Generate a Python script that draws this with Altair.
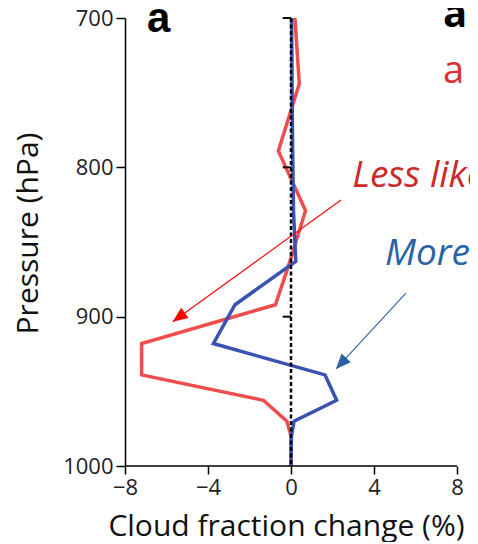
import altair as alt
import pandas as pd

# ---- data ----
pressure = [700, 744, 789, 829, 863, 892, 918, 939, 956, 970, 980, 1000]
red_change = [0.19, 0.40, -0.61, 0.70, -0.05, -0.75, -7.20, -7.20, -1.33, -0.20, 0.0, 0.0]
blue_change = [0.03, 0.05, 0.08, 0.12, 0.23, -2.70, -3.74, 1.64, 2.20, 0.15, 0.02, 0.0]

x_ticks = [-8, -4, 0, 4, 8]
y_ticks = [700, 800, 900, 1000]
zero_marks = [700, 800, 900]

# annotations (data coordinates)
ann_text = ["a", "ar", "a", "Less like", "More"]
ann_x = [-6.94, 7.33, 7.33, 2.95, 4.53]
ann_p = [709.2, 706.0, 743.5, 813.2, 865.4]

arrow_x0 = [2.41, 5.54]
arrow_p0 = [821.9, 884.2]
arrow_x1 = [-5.70, 2.17]
arrow_p1 = [903.4, 935.0]
arrow_angle = [234, 222.6]

XDOM = [-8, 8.627]
YDOM = [700, 1000]
FONT = "Open Sans"
RED_LINE = "#EF4D4D"
BLUE_LINE = "#3A53B3"

x_axis = alt.Axis(values=x_ticks, domain=False, grid=False, tickSize=8, tickWidth=1.5, tickColor="black",
                  labelFont=FONT, labelFontSize=22, labelColor="#222", labelPadding=3,
                  labelFlush=False, labelOverlap=False,
                  title="Cloud fraction change (%)", titleFont=FONT, titleFontSize=30, titleFontWeight="normal",
                  titleColor="#111", titleX=161, titleY=69, titleBaseline="alphabetic", titleAlign="center")
y_axis = alt.Axis(values=y_ticks, format="d", grid=False, domainColor="black", domainWidth=1.5, tickSize=9,
                  tickWidth=1.5, tickColor="black", labelFont=FONT, labelFontSize=22, labelColor="#222",
                  labelPadding=3, labelFlush=False, labelOverlap=False,
                  title="Pressure (hPa)", titleFont=FONT, titleFontSize=30,
                  titleFontWeight="normal", titleColor="#111", titleAngle=-90, titleX=-97, titleY=215,
                  titleBaseline="middle", titleAlign="center")


def xs(field):
    return alt.X(field, type="quantitative", scale=alt.Scale(domain=XDOM, nice=False, zero=False), axis=x_axis)


def ys(field):
    return alt.Y(field, type="quantitative", scale=alt.Scale(domain=YDOM, reverse=True, nice=False, zero=False),
                 axis=y_axis)


lines_df = pd.DataFrame({"p": pressure, "red": red_change, "blue": blue_change})

red = alt.Chart(lines_df).mark_line(color=RED_LINE, strokeWidth=3.5).encode(
    x=xs("red"), y=ys("p"), order="p:Q")
blue = alt.Chart(lines_df).mark_line(color=BLUE_LINE, strokeWidth=3.5).encode(
    x=xs("blue"), y=ys("p"), order="p:Q")

zero_df = pd.DataFrame({"x": [0], "p": [YDOM[0]], "p2": [YDOM[1]]})
zero = alt.Chart(zero_df).mark_rule(color="black", strokeWidth=2.5, strokeDash=[4, 2.5]).encode(
    x=xs("x"), y=ys("p"), y2="p2")

zt_df = pd.DataFrame({"x": [-0.4] * len(zero_marks), "x2": [0] * len(zero_marks), "p": zero_marks})
zt = alt.Chart(zt_df).mark_rule(color="black", strokeWidth=2).encode(x=xs("x"), x2="x2", y=ys("p"))

xl_df = pd.DataFrame({"x": [x_ticks[0]], "x2": [x_ticks[-1]], "p": [YDOM[1]]})
xline = alt.Chart(xl_df).mark_rule(color="black", strokeWidth=1.5).encode(x=xs("x"), x2="x2", y=ys("p"))

arr_df = pd.DataFrame({"x0": arrow_x0, "p0": arrow_p0, "x1": arrow_x1, "p1": arrow_p1,
                       "ang": arrow_angle, "c": ["r", "b"]})
acol = alt.Scale(domain=["r", "b"], range=["#FF0000", "#2B62A5"])
arr_lines = alt.Chart(arr_df).mark_rule(strokeWidth=1.1).encode(
    x=xs("x0"), x2="x1", y=ys("p0"), y2="p1", color=alt.Color("c:N", scale=acol, legend=None))
arr_heads = alt.Chart(arr_df).mark_point(shape="M0,0 L0.85,2 L-0.85,2 Z", filled=True, size=225, opacity=1,
                                         strokeWidth=0).encode(
    x=xs("x1"), y=ys("p1"), angle=alt.Angle("ang:Q", scale=None),
    color=alt.Color("c:N", scale=acol, legend=None))

ann_df = pd.DataFrame({"t": ann_text, "x": ann_x, "p": ann_p})
styles = [
    dict(font="Liberation Sans", fontSize=42, fontWeight="bold", color="black", fontStyle="normal"),
    dict(font=FONT, fontSize=40, fontWeight="bold", color="black", fontStyle="normal"),
    dict(font=FONT, fontSize=38, fontWeight="normal", color="#D83030", fontStyle="normal"),
    dict(font=FONT, fontSize=37, fontWeight="normal", color="#CC2A2A", fontStyle="italic"),
    dict(font=FONT, fontSize=37, fontWeight="normal", color="#2A62A8", fontStyle="italic"),
]
texts = []
for i, st in enumerate(styles):
    texts.append(alt.Chart(ann_df.iloc[[i]]).mark_text(align="left", baseline="alphabetic", **st).encode(
        x=xs("x"), y=ys("p"), text="t:N"))

chart = alt.layer(red, blue, zero, zt, xline, arr_lines, arr_heads, *texts).properties(
    width=345, height=448,
    padding={"left": 117, "top": 10, "right": 0, "bottom": 76},
    autosize=alt.AutoSizeParams(type="none"),
    background="white",
).configure_view(stroke=None)

chart.save("out.html", embed_options={"renderer": "svg", "actions": False})
